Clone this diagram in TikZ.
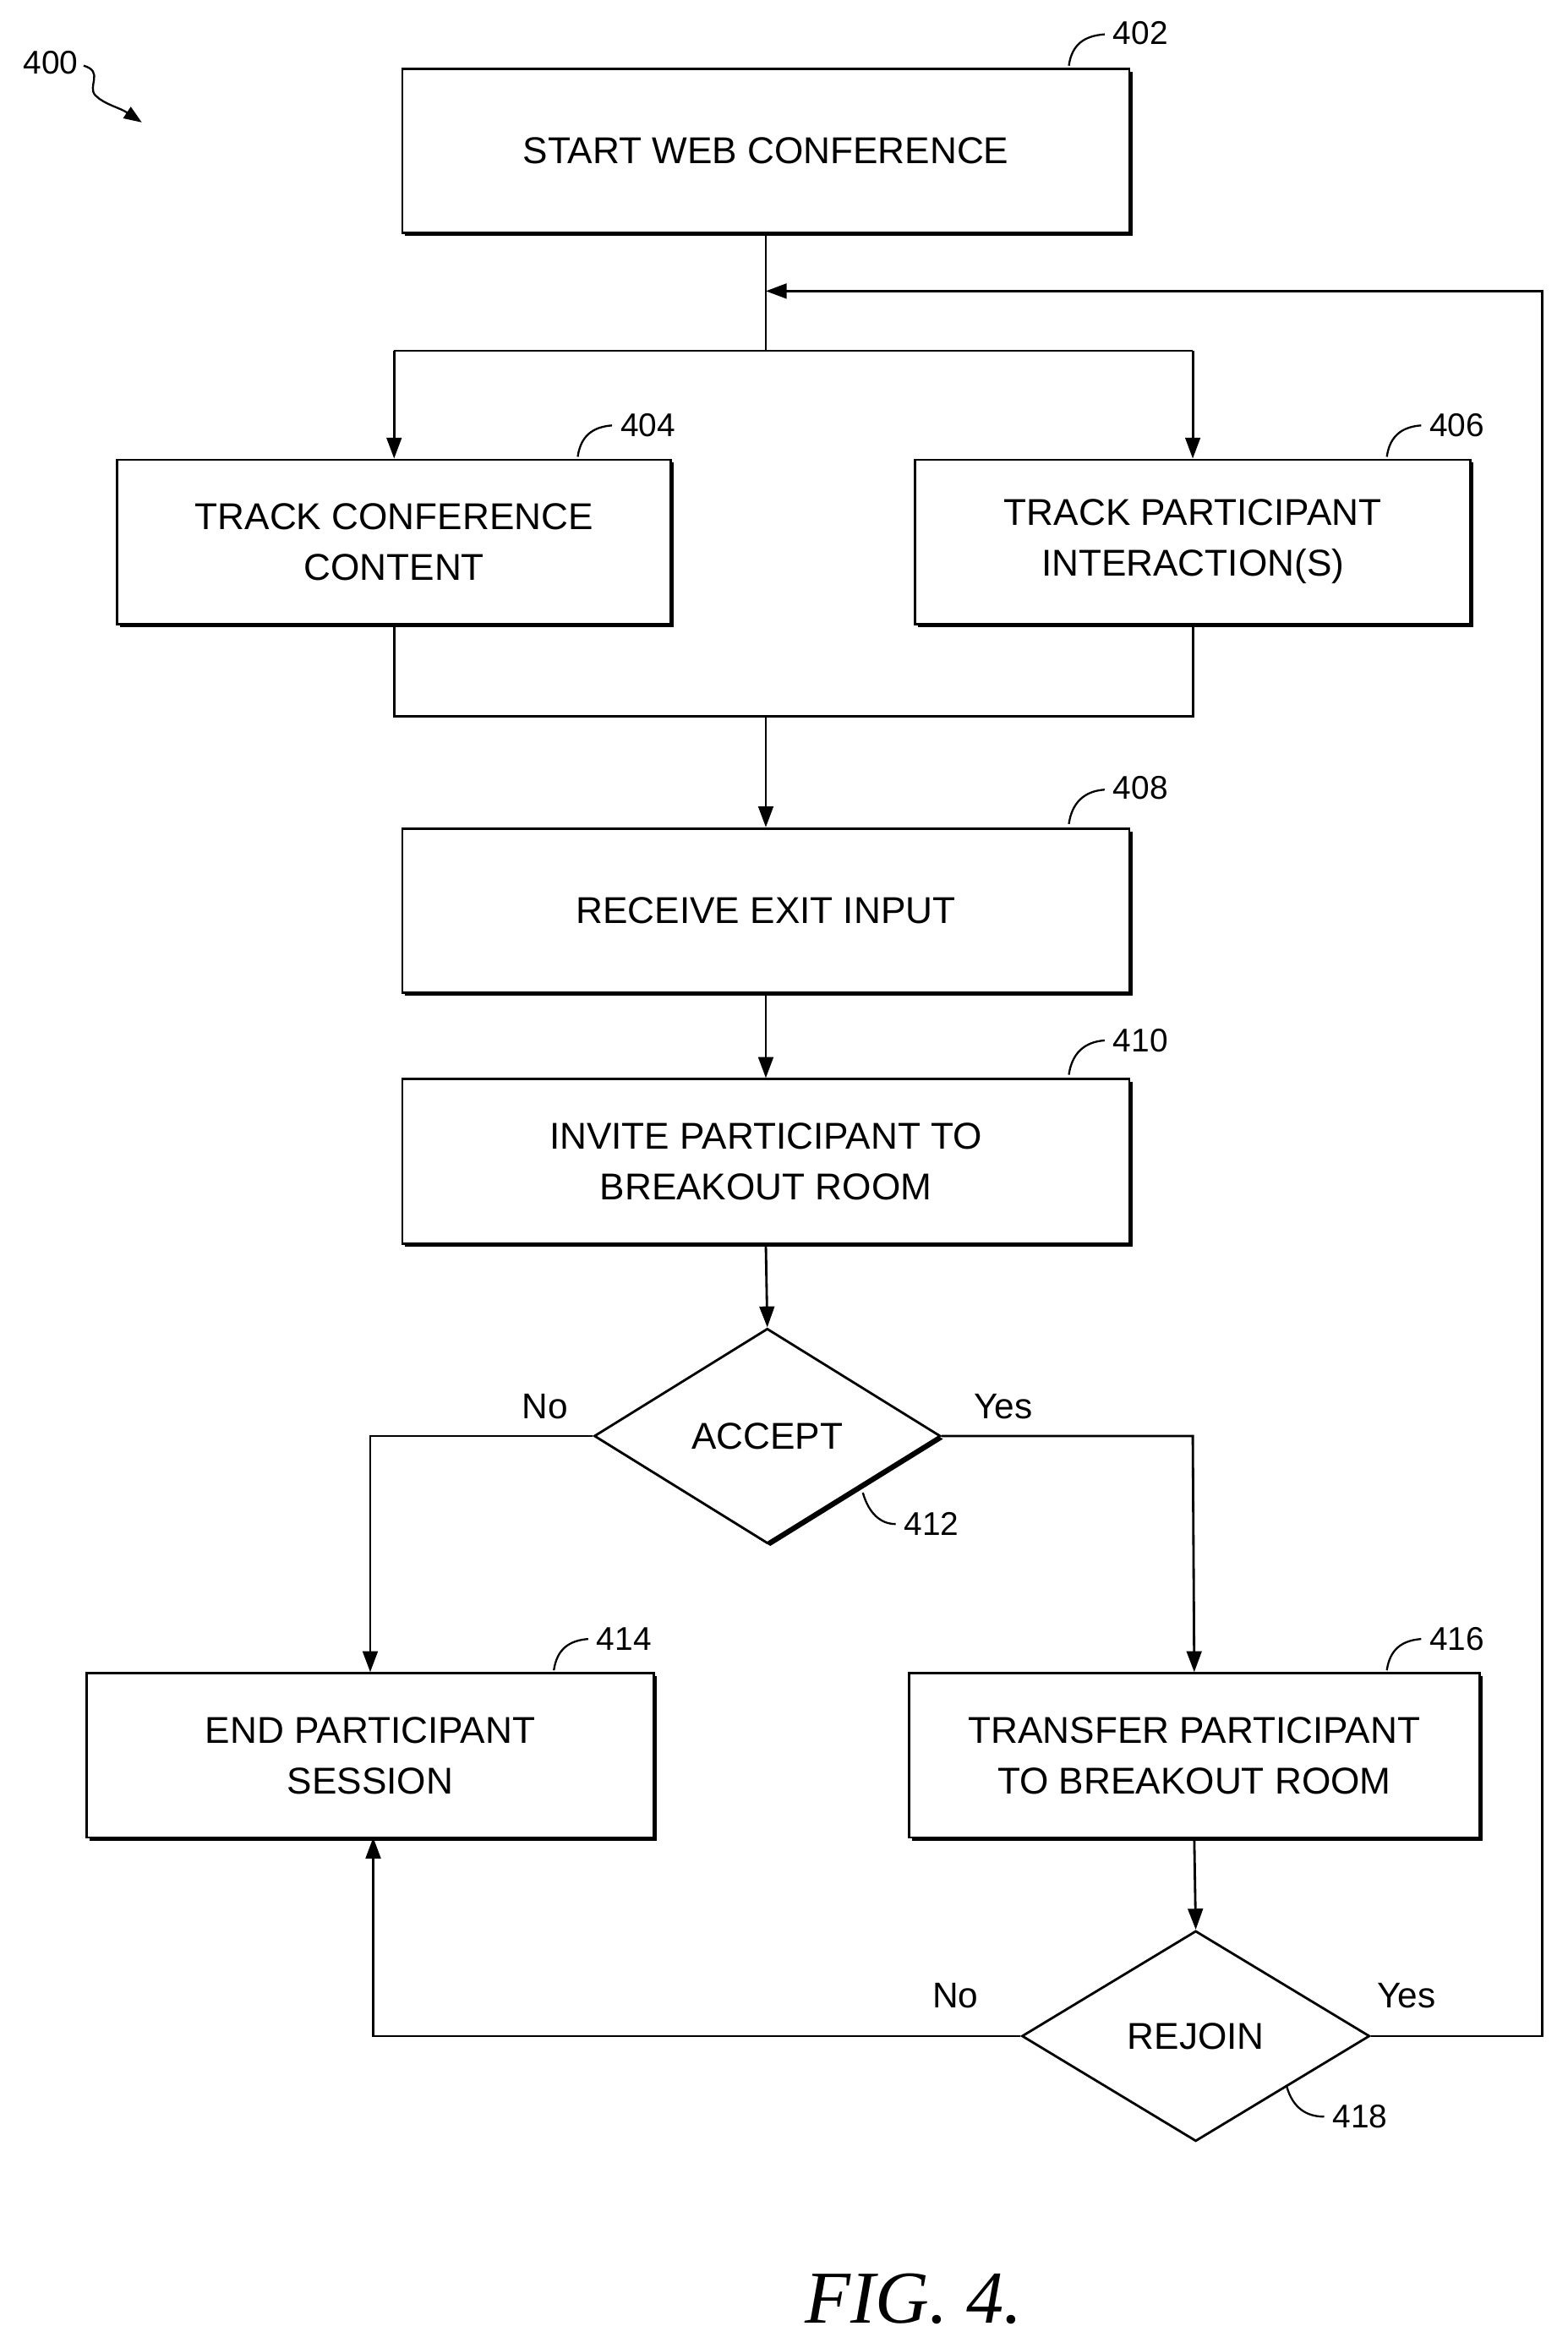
\documentclass[tikz,border=0pt]{standalone}
\usepackage{fontspec}
\setmainfont{Liberation Sans}
\usetikzlibrary{shapes.geometric,shadows,arrows.meta}
\begin{document}
\begin{tikzpicture}[x=1pt,y=-1pt,
 box/.style={draw,line width=1.6pt,fill=white,minimum width=#1,minimum height=110pt,align=center,font=\fontsize{25}{34}\selectfont,drop shadow={shadow xshift=2pt,shadow yshift=-2pt,fill=black,opacity=1}},
 dia/.style={draw,diamond,line width=1.6pt,fill=white,aspect=1.62,minimum width=#1,inner sep=0pt,font=\fontsize{25}{30}\selectfont},
 ln/.style={line width=1.6pt},
 ar/.style={line width=1.6pt,-{Triangle[length=14pt,width=10pt]}},
 ref/.style={font=\fontsize{22}{26}\selectfont},
 lab/.style={font=\fontsize{24}{28}\selectfont}]
\useasboundingbox (0,0) rectangle (1050,1573);
\node[box=487pt] (b402) at (513,101) {START WEB CONFERENCE};
\node[box=371pt] (b404) at (264,363) {TRACK CONFERENCE\\CONTENT};
\node[box=372pt] (b406) at (799,363) {TRACK PARTICIPANT\\INTERACTION(S)};
\node[box=487pt] (b408) at (513,610) {RECEIVE EXIT INPUT};
\node[box=487pt] (b410) at (513,778) {INVITE PARTICIPANT TO\\BREAKOUT ROOM};
\node[dia=232pt,minimum height=144pt,drop shadow={shadow xshift=2pt,shadow yshift=-2pt,fill=black,opacity=1}] (d412) at (514,962) {ACCEPT};
\node[box=380pt] (b414) at (248,1176) {END PARTICIPANT\\SESSION};
\node[box=382pt] (b416) at (800,1176) {TRANSFER PARTICIPANT\\TO BREAKOUT ROOM};
\node[dia=233pt,minimum height=141pt] (d418) at (801,1364) {REJOIN};
% connectors
\coordinate (j1) at (513,235);
\coordinate (j2) at (513,480);
\draw[ln] (b402.south) -- (j1);
\draw[ln] (264,235) -- (799,235);
\draw[ar] (264,235) -- (b404.north);
\draw[ar] (799,235) -- (b406.north);
\draw[ln] (b404.south) -- (264,480) -- (799,480) -- (b406.south);
\draw[ar] (j2) -- (b408.north);
\draw[ar] (b408.south) -- (b410.north);
\draw[ar] (b410.south) -- (d412.north);
\draw[ar] (d412.west) -- (248,962) -- (b414.north);
\draw[ar] (d412.east) -- (799,962) -- (b416.north);
\draw[ar] (b416.south) -- (d418.north);
\draw[ar] (d418.west) -- (250,1364) -- (250,1231);
\draw[ar] (d418.east) -- (1033,1364) -- (1033,195) -- (513,195);
% labels
\node[lab] (n1) at (365,942) {No};
\node[lab] (y1) at (672,942) {Yes};
\node[lab] (n2) at (640,1337) {No};
\node[lab] (y2) at (942,1337) {Yes};
% reference numbers
\tikzset{leader/.style={line width=1.3pt}}
\node[ref] (r402) at (764,22) {402};
\draw[leader] (716,44) .. controls (718,30) and (726,24) .. (740,23);
\node[ref] (r404) at (434,285) {404};
\draw[leader] (387,306) .. controls (389,292) and (397,286) .. (410,285);
\node[ref] (r406) at (976,285) {406};
\draw[leader] (929,306) .. controls (931,292) and (939,286) .. (952,285);
\node[ref] (r408) at (764,528) {408};
\draw[leader] (716,552) .. controls (718,538) and (726,530) .. (740,529);
\node[ref] (r410) at (764,697) {410};
\draw[leader] (716,720) .. controls (718,706) and (726,698) .. (740,697);
\node[ref] (r412) at (624,1021) {412};
\draw[leader] (578,1000) .. controls (582,1014) and (590,1021) .. (600,1021);
\node[ref] (r414) at (418,1098) {414};
\draw[leader] (371,1119) .. controls (373,1105) and (381,1099) .. (394,1098);
\node[ref] (r416) at (976,1098) {416};
\draw[leader] (929,1119) .. controls (931,1105) and (939,1099) .. (952,1098);
\node[ref] (r418) at (911,1418) {418};
\draw[leader] (862,1398) .. controls (866,1412) and (875,1418) .. (887,1418);
\node[ref] (r400) at (34,42) {400};
\draw[line width=1.3pt,-{Triangle[length=12pt,width=9pt]}] (56,44) .. controls (70,48) and (58,58) .. (64,64) .. controls (70,70) and (80,72) .. (95,82);
\node[font=\fontsize{50}{56}\selectfont\itshape\rmfamily] (fig) at (612,1540) {\fontspec{Liberation Serif}FIG. 4.};
\end{tikzpicture}
\end{document}
